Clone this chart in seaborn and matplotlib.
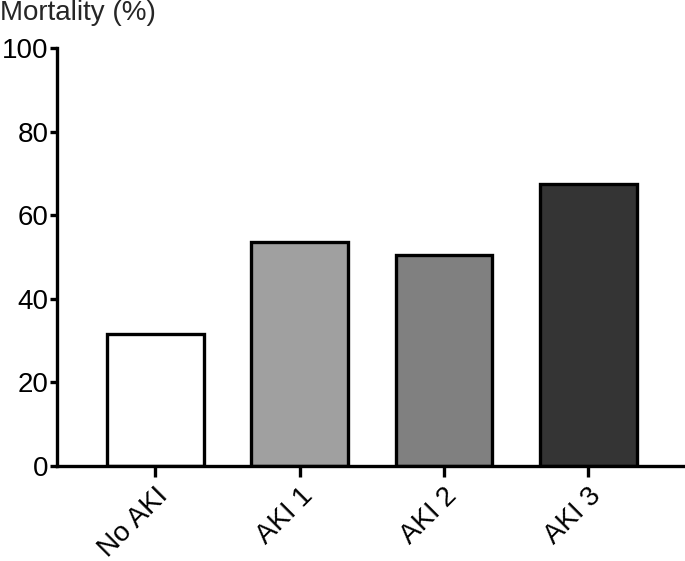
import pandas as pd
import seaborn as sns
import matplotlib.pyplot as plt

# Values
groups = ['No AKI', 'AKI 1', 'AKI 2', 'AKI 3']
mortality = [31.5, 53.5, 50.5, 67.5]
bar_colors = ['#ffffff', '#a0a0a0', '#808080', '#343434']

data = pd.DataFrame({'Group': groups, 'Mortality': mortality})

sns.set_style('ticks')
plt.rcParams['font.family'] = ['Liberation Sans', 'DejaVu Sans']

fig = plt.figure(figsize=(6.85, 5.61), dpi=100)
ax = fig.add_axes([0.0832, 0.1693, 0.9168, 0.7451])

sns.barplot(data=data, x='Group', y='Mortality', hue='Group', palette=bar_colors,
            width=0.67, edgecolor='black', linewidth=2.4, legend=False, ax=ax)

ax.set_xlim(-0.68, 3.67)
ax.set_ylim(0, 100)
ax.set_yticks([0, 20, 40, 60, 80, 100])
ax.set_xlabel('')
ax.set_ylabel('')

for side in ['top', 'right']:
    ax.spines[side].set_visible(False)
for side in ['left', 'bottom']:
    ax.spines[side].set_linewidth(2.4)
    ax.spines[side].set_color('black')

ax.tick_params(axis='y', length=5, width=2.4, labelsize=20, pad=1, colors='black')
ax.tick_params(axis='x', length=8, width=2.4, labelsize=20, pad=4, colors='black')
plt.setp(ax.get_xticklabels(), rotation=45, ha='right', rotation_mode='anchor')

fig.text(0.0, 1.0, 'Mortality (%)', fontsize=20, ha='left', va='top')

fig.savefig('out.png', dpi=100)
